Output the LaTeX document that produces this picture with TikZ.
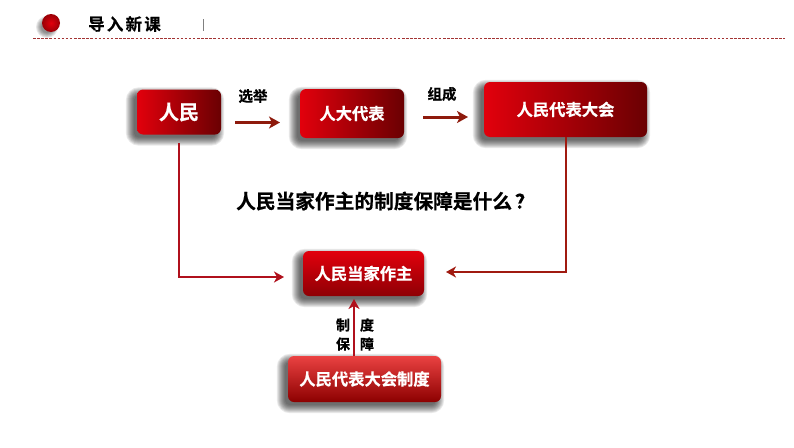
\documentclass[tikz,border=0pt]{standalone}
\usepackage{fontspec}
\setmainfont{Noto Sans CJK SC}[BoldFont={Noto Sans CJK SC Bold},BoldFeatures={FakeBold=0.6}]
\usetikzlibrary{arrows.meta,calc,backgrounds}
\definecolor{rA}{HTML}{E2000C}
\definecolor{rB}{HTML}{6A0002}
\definecolor{lineD}{HTML}{A01A10}
\definecolor{lineE}{HTML}{8E1A0C}
\definecolor{lineF}{HTML}{B0101C}
\tikzset{
  x=1pt,y=-1pt,
  every node/.style={font=\bfseries,inner sep=0pt},
  boxbase/.style={rounded corners=6pt,anchor=center,text=white,font=\bfseries\fontsize{16.3}{18}\selectfont},
  hbox/.style={boxbase,left color=rA,right color=rB},
  link/.style={draw=lineD,line width=2pt,-{Stealth[length=10pt,width=11pt,inset=3pt]}},
  heavylink/.style={draw=lineE,line width=3pt,-{Stealth[length=11pt,width=12pt,inset=3pt]}},
  lab/.style={text=black,font=\bfseries\fontsize{14.5}{16}\selectfont},
  sidelab/.style={text=black,font=\bfseries\fontsize{14}{16}\selectfont},
  shadowlayer/.style={fill=black,opacity=.085},
}
\newcommand{\softshadow}[1]{%
  \foreach \e in {-1,0,...,7}{%
    \pgfmathsetmacro{\rc}{max(2,6+\e)}%
    \fill[shadowlayer,rounded corners=\rc pt]
      ($(#1.south west)+(-4-\e,4+\e)$) rectangle ($(#1.north east)+(-4+\e,5-\e)$);
  }}
\begin{document}
\begin{tikzpicture}
\useasboundingbox (0,0) rectangle (794,447);
% header
\node[circle,minimum size=18pt,inner color=rA,outer color=rB!60!rA] (dot) at (51,23) {};
\draw[draw=red!55!black!80,line width=.9pt,dash pattern=on 2.5pt off 1.6pt] (33,38.5) -- (785,38.5);
\draw[draw=gray,line width=1pt] (203,19) -- (203,31);
\node[text=black,font=\bfseries\fontsize{16.5}{18}\selectfont,anchor=center] (hd) at (124.5,24) {导\hspace{2.2pt}入\hspace{2.2pt}新\hspace{2.2pt}课};
% boxes
\node[hbox,minimum width=84pt,minimum height=45pt,font=\bfseries\fontsize{20}{22}\selectfont] (people) at (179,112) {人民};
\node[hbox,minimum width=104pt,minimum height=49pt] (deputy) at (352,113.5) {人大代表};
\node[hbox,minimum width=163pt,minimum height=55pt] (congress) at (565.5,109.5) {人民代表大会};
\node[boxbase,top color=rA,bottom color=rB!70!rA,minimum width=121pt,minimum height=45pt] (master) at (363.5,273.5) {人民当家作主};
\node[boxbase,top color=red!72!white!92!black,bottom color=red!55!black,minimum width=153pt,minimum height=46pt] (system) at (364.5,379) {人民代表大会制度};
\begin{pgfonlayer}{background}
  \fill[white] (0,0) rectangle (794,447);
  \softshadow{people}
  \softshadow{deputy}
  \softshadow{congress}
  \softshadow{master}
  \softshadow{system}
  \foreach \e in {0,...,5}{\fill[black,opacity=.09] ($(dot.center)+(-4,4)$) circle ({6+\e});}
\end{pgfonlayer}
% texts
\node[text=black,font=\bfseries\fontsize{19.7}{22}\selectfont,anchor=west] (q) at (236,201) {人民当家作主的制度保障是什么\hspace{3pt}？};
\node[lab] (l1) at (253,96) {选举};
\node[lab] (l2) at (442,94) {组成};
\node[sidelab] (l3) at (343,325) {制};
\node[sidelab] (l4) at (343,344) {保};
\node[sidelab] (l5) at (367,325) {度};
\node[sidelab] (l6) at (367,344) {障};
% connectors
\coordinate (a1) at (235,122.5);
\coordinate (a2) at (280,122.5);
\coordinate (b1) at (423,117);
\coordinate (b2) at (468,117);
\coordinate (c1) at (179,143);
\coordinate (c2) at (179,277);
\coordinate (c3) at (284,277);
\coordinate (d1) at (566,137);
\coordinate (d2) at (566,272);
\coordinate (d3) at (446,272);
\coordinate (e1) at (354,356);
\coordinate (e2) at (354,299);
\draw[heavylink] (a1) -- (a2);
\draw[heavylink] (b1) -- (b2);
\draw[link,draw=lineF] (c1) -- (c2) -- (c3);
\draw[link,line width=2.4pt] (d1) -- (d2) -- (d3);
\draw[link,draw=lineF,line width=2.6pt] (e1) -- (e2);
\end{tikzpicture}
\end{document}
